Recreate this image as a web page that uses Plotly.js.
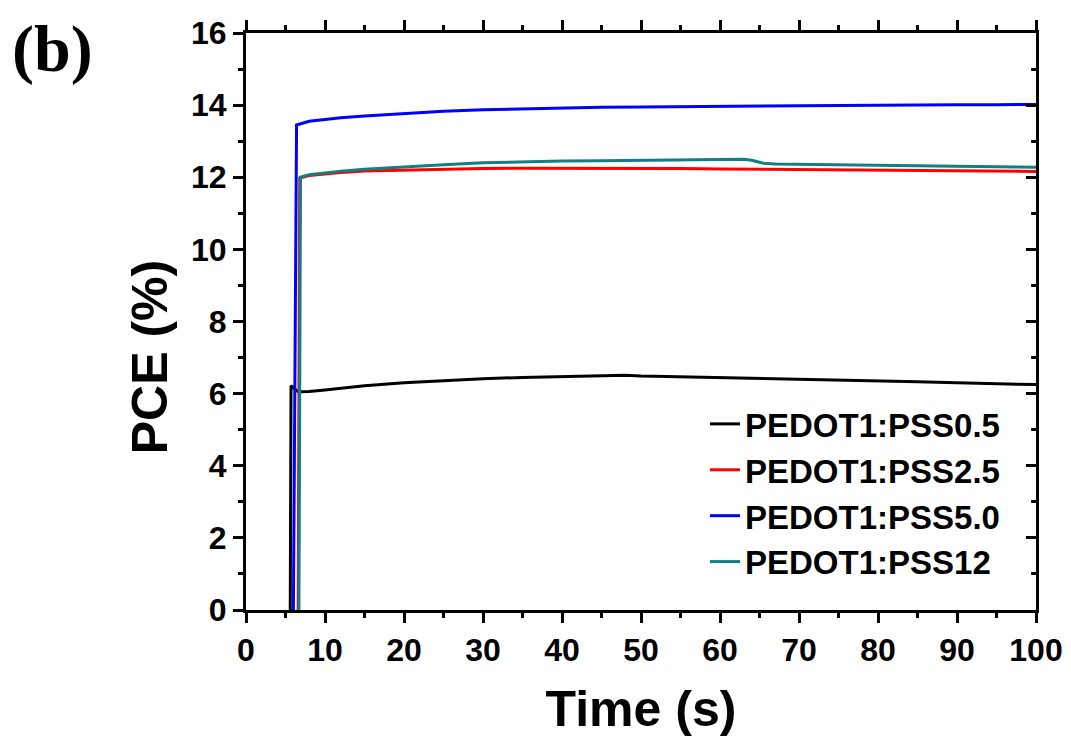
<!DOCTYPE html>
<html>
<head>
<meta charset="utf-8">
<script src="https://cdn.plot.ly/plotly-3.0.1.min.js"></script>
<style>html,body{margin:0;padding:0;background:#fff;}#chart{width:1071px;height:740px;}</style>
</head>
<body>
<div id="chart"></div>
<script>
// Series names
const seriesNames = ["PEDOT1:PSS0.5", "PEDOT1:PSS2.5", "PEDOT1:PSS5.0", "PEDOT1:PSS12"];

// PEDOT1:PSS0.5 (black)
const timeBlack = [5.6, 5.7, 6.6, 8, 10, 12, 15, 20, 25, 30, 35, 40, 45, 48, 50, 55, 60, 65, 70, 75, 80, 85, 90, 95, 100];
const pceBlack  = [0, 6.22, 6.05, 6.06, 6.1, 6.15, 6.22, 6.3, 6.36, 6.41, 6.45, 6.47, 6.49, 6.51, 6.49, 6.47, 6.45, 6.42, 6.4, 6.37, 6.35, 6.33, 6.3, 6.28, 6.25];

// PEDOT1:PSS2.5 (red)
const timeRed = [6.6, 6.8, 8, 10, 12, 15, 20, 25, 30, 35, 40, 45, 50, 55, 60, 65, 70, 75, 80, 85, 90, 95, 100];
const pceRed  = [0, 11.98, 12.05, 12.1, 12.13, 12.17, 12.2, 12.23, 12.24, 12.25, 12.25, 12.26, 12.25, 12.24, 12.23, 12.22, 12.21, 12.2, 12.19, 12.18, 12.18, 12.17, 12.16];

// PEDOT1:PSS5.0 (blue)
const timeBlue = [6.0, 6.4, 8, 10, 12, 15, 20, 25, 30, 35, 40, 45, 50, 55, 60, 65, 70, 75, 80, 85, 90, 95, 100];
const pceBlue  = [0, 13.45, 13.55, 13.6, 13.65, 13.7, 13.77, 13.83, 13.87, 13.9, 13.92, 13.94, 13.95, 13.96, 13.97, 13.98, 13.98, 13.99, 14.0, 14.0, 14.01, 14.01, 14.02];

// PEDOT1:PSS12 (teal)
const timeTeal = [6.7, 6.9, 8, 10, 12, 15, 20, 25, 30, 35, 40, 45, 50, 55, 60, 63, 64, 65.5, 67, 70, 75, 80, 85, 90, 95, 100];
const pceTeal  = [0, 12.0, 12.07, 12.12, 12.17, 12.22, 12.29, 12.35, 12.4, 12.43, 12.45, 12.46, 12.47, 12.48, 12.5, 12.5, 12.47, 12.39, 12.37, 12.36, 12.34, 12.33, 12.31, 12.3, 12.29, 12.28];

const xTickVals = [0, 10, 20, 30, 40, 50, 60, 70, 80, 90, 100];
const yTickVals = [0, 2, 4, 6, 8, 10, 12, 14, 16];

const FONT = "Liberation Sans, Arial, sans-serif";

const traces = [
  {x: timeBlack, y: pceBlack, name: seriesNames[0], mode: "lines", line: {color: "#000000", width: 3}},
  {x: timeRed, y: pceRed, name: seriesNames[1], mode: "lines", line: {color: "#ff0000", width: 3}},
  {x: timeBlue, y: pceBlue, name: seriesNames[2], mode: "lines", line: {color: "#0000ff", width: 3}},
  {x: timeTeal, y: pceTeal, name: seriesNames[3], mode: "lines", line: {color: "#128080", width: 3}, yaxis: "y2"}
];

const layout = {
  width: 1071, height: 740,
  margin: {l: 246, r: 35, t: 33, b: 130, pad: 0},
  paper_bgcolor: "#ffffff", plot_bgcolor: "#ffffff",
  showlegend: true,
  legend: {
    x: 0.581, y: 0.371, xanchor: "left", yanchor: "top",
    bgcolor: "rgba(0,0,0,0)", borderwidth: 0,
    font: {family: FONT, size: 33, color: "#000", weight: "bold"},
    traceorder: "normal"
  },
  xaxis: {
    range: [0, 100], tickvals: xTickVals, ticktext: xTickVals.map(String),
    ticks: "outside", ticklen: 10, tickwidth: 3, tickcolor: "#000",
    minor: {dtick: 5, ticks: "outside", ticklen: 5, tickwidth: 3, tickcolor: "#000"},
    showline: true, linewidth: 3, linecolor: "#000", mirror: "ticks",
    showgrid: false, zeroline: false,
    tickfont: {family: FONT, size: 32, color: "#000", weight: "bold"},
    title: {text: "Time (s)", font: {family: FONT, size: 50, color: "#000", weight: "bold"}, standoff: 24}
  },
  yaxis: {
    range: [0, 16], tickvals: yTickVals, ticktext: yTickVals.map(String),
    ticks: "outside", ticklen: 10, tickwidth: 3, tickcolor: "#000",
    minor: {dtick: 1, ticks: "outside", ticklen: 5, tickwidth: 3, tickcolor: "#000"},
    showline: true, linewidth: 3, linecolor: "#000", mirror: true,
    showgrid: false, zeroline: false,
    tickfont: {family: FONT, size: 32, color: "#000", weight: "bold"}
  },
  yaxis2: {
    overlaying: "y", side: "right", matches: "y", range: [0, 16],
    tickvals: yTickVals, showticklabels: false,
    ticks: "inside", ticklen: 10, tickwidth: 3, tickcolor: "#000",
    minor: {dtick: 1, ticks: "inside", ticklen: 5, tickwidth: 3, tickcolor: "#000"},
    showline: true, linewidth: 3, linecolor: "#000",
    showgrid: false, zeroline: false
  },
  annotations: [
    {
      text: "(b)", xref: "paper", yref: "paper",
      x: -0.299, y: 0.972, xanchor: "left", yanchor: "middle",
      showarrow: false,
      font: {family: "Liberation Serif, Times New Roman, serif", size: 66, color: "#000", weight: "bold"}
    },
    {
      text: "PCE (%)", xref: "paper", yref: "paper",
      x: -0.1215, y: 0.438, xanchor: "center", yanchor: "middle",
      textangle: -90, showarrow: false,
      font: {family: FONT, size: 50, color: "#000", weight: "bold"}
    }
  ]
};

Plotly.newPlot("chart", traces, layout, {displayModeBar: false, staticPlot: true});
</script>
</body>
</html>
